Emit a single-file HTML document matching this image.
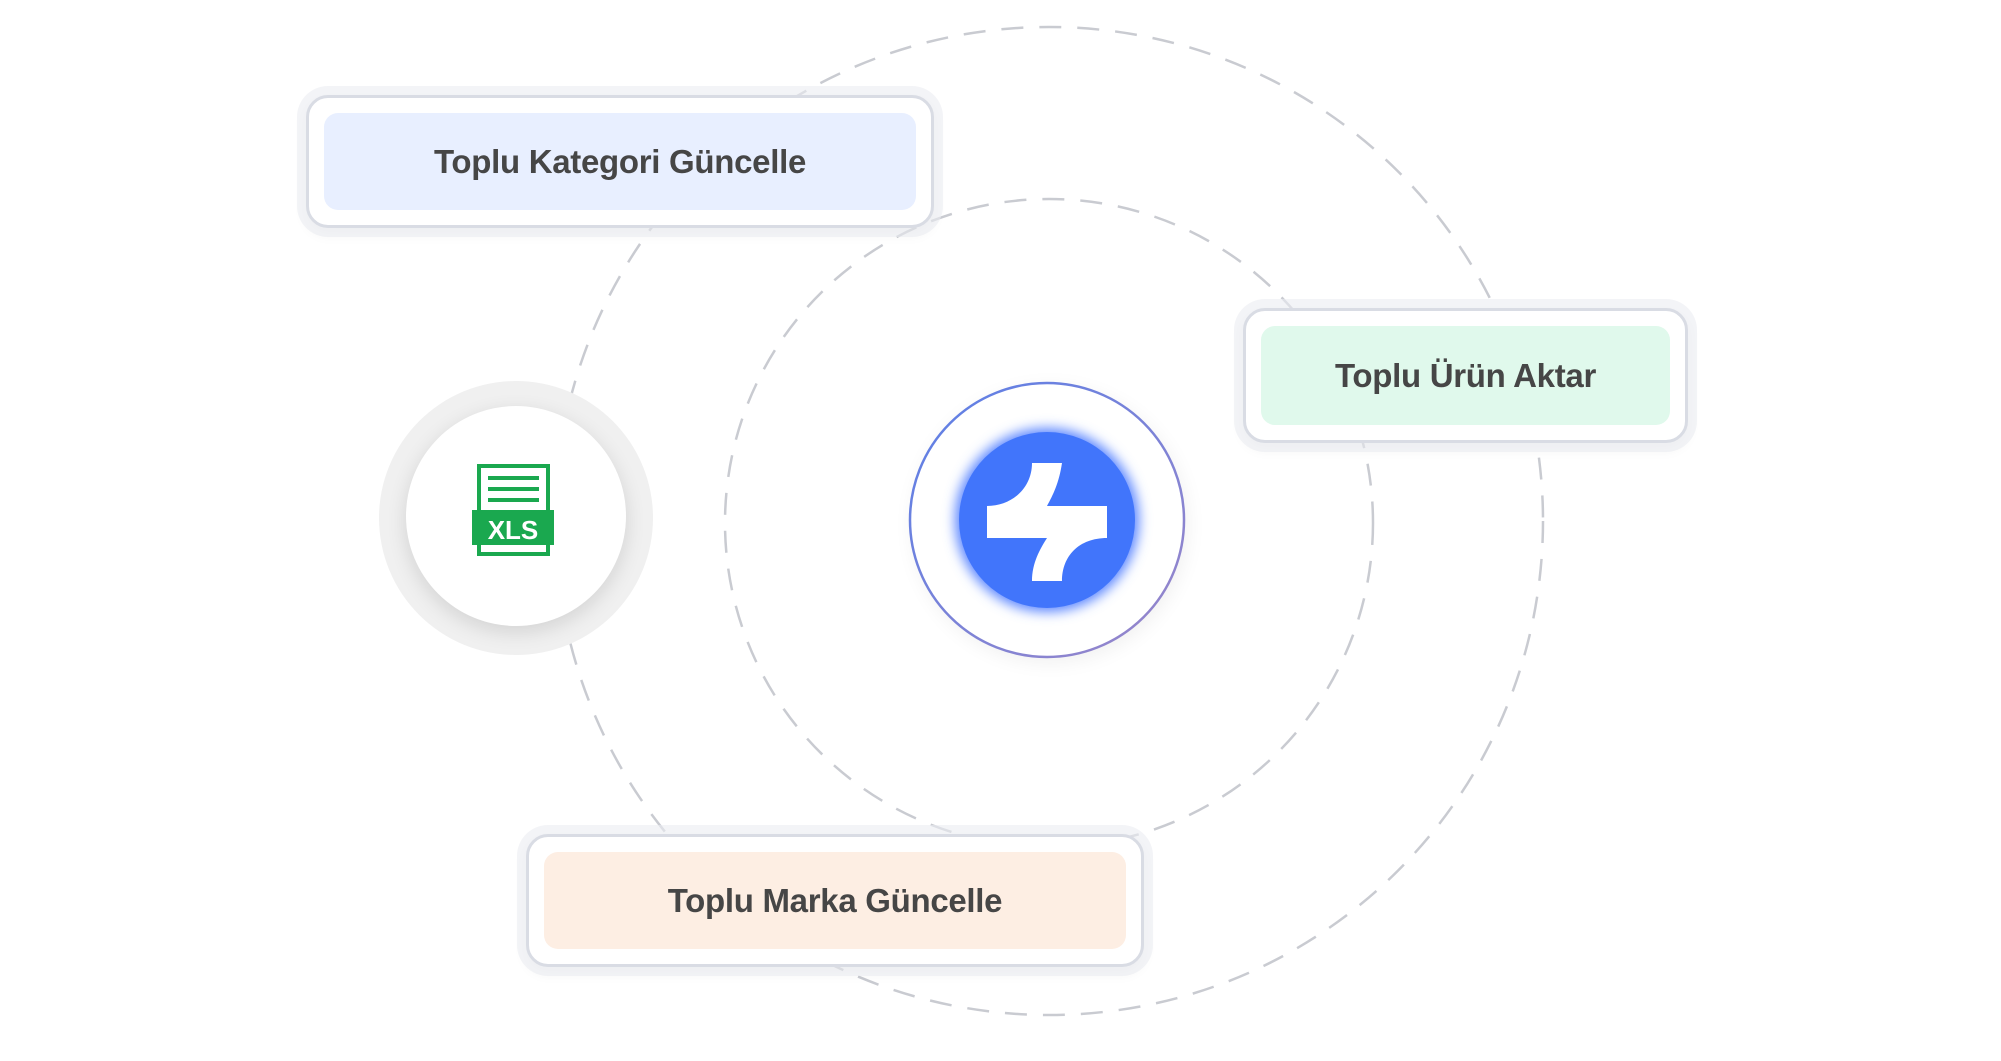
<!DOCTYPE html>
<html><head><meta charset="utf-8"><style>
html,body{margin:0;padding:0;background:#fff;}
body{width:2001px;height:1061px;position:relative;overflow:hidden;font-family:"Liberation Sans",sans-serif;}
.box{position:absolute;background:#fff;border:3px solid #d9dce4;border-radius:22px;box-sizing:border-box;box-shadow:0 0 0 9px rgba(235,237,242,0.6),0 6px 14px rgba(0,0,0,0.06);}
.in{position:absolute;left:15px;right:15px;top:15px;bottom:15px;border-radius:14px;display:flex;align-items:center;justify-content:center;color:#464646;font-size:33px;font-weight:bold;letter-spacing:-0.3px;}
</style></head><body>
<svg width="2001" height="1061" style="position:absolute;left:0;top:0">
<circle cx="1049" cy="521" r="494" fill="none" stroke="#c9cbd1" stroke-width="2.5" stroke-dasharray="22 16"/>
<circle cx="1049" cy="523" r="324" fill="none" stroke="#c9cbd1" stroke-width="2.5" stroke-dasharray="22 16"/>
<defs>
<filter id="bl" x="-50%" y="-50%" width="200%" height="200%"><feGaussianBlur stdDeviation="6"/></filter>
<filter id="sh" x="-50%" y="-50%" width="200%" height="200%"><feGaussianBlur stdDeviation="10"/></filter>
<linearGradient id="rg" x1="0" y1="0" x2="1" y2="1"><stop offset="0" stop-color="#5a7fe8"/><stop offset="1" stop-color="#9a86c8"/></linearGradient>
</defs>
<circle cx="516" cy="518" r="137" fill="#f0f0f0"/>
<circle cx="516" cy="522" r="110" fill="#000" opacity="0.12" filter="url(#sh)"/>
<circle cx="516" cy="516" r="110" fill="#fff"/>
<rect x="479" y="466" width="69" height="88" fill="#fff" stroke="#1aa84f" stroke-width="4"/>
<line x1="488" y1="478" x2="539" y2="478" stroke="#1aa84f" stroke-width="4"/>
<line x1="488" y1="489" x2="539" y2="489" stroke="#1aa84f" stroke-width="4"/>
<line x1="488" y1="500" x2="539" y2="500" stroke="#1aa84f" stroke-width="4"/>
<rect x="472" y="510" width="82" height="35" fill="#1aa84f"/>
<text x="513" y="539" text-anchor="middle" font-family="Liberation Sans" font-weight="bold" font-size="26" fill="#fff">XLS</text>
<circle cx="1050" cy="525" r="137" fill="#000" opacity="0.06" filter="url(#sh)"/>
<circle cx="1047" cy="520" r="137" fill="#fff" stroke="url(#rg)" stroke-width="2.5"/>
<circle cx="1047" cy="520" r="92" fill="#5b86ff" filter="url(#bl)"/>
<circle cx="1047" cy="520" r="88" fill="#4175fb"/>
<path transform="translate(1047,521)" fill="#fff" d="M -15,-58 L 15,-58 C 12,-38 6,-26 0,-15 L 60,-15 L 60,17 C 32,17 15,35 15,60 L -15,60 C -15,42 -7,28 0,17 L -60,17 L -60,-15 C -35,-15 -15,-33 -15,-58 Z"/>
</svg>
<div class="box" style="left:306px;top:95px;width:628px;height:133px;"><div class="in" style="background:#e8efff;">Toplu Kategori Güncelle</div></div>
<div class="box" style="left:1243px;top:308px;width:445px;height:135px;"><div class="in" style="background:#e0f9ec;">Toplu Ürün Aktar</div></div>
<div class="box" style="left:526px;top:834px;width:618px;height:133px;"><div class="in" style="background:#fdeee3;">Toplu Marka Güncelle</div></div>
</body></html>
